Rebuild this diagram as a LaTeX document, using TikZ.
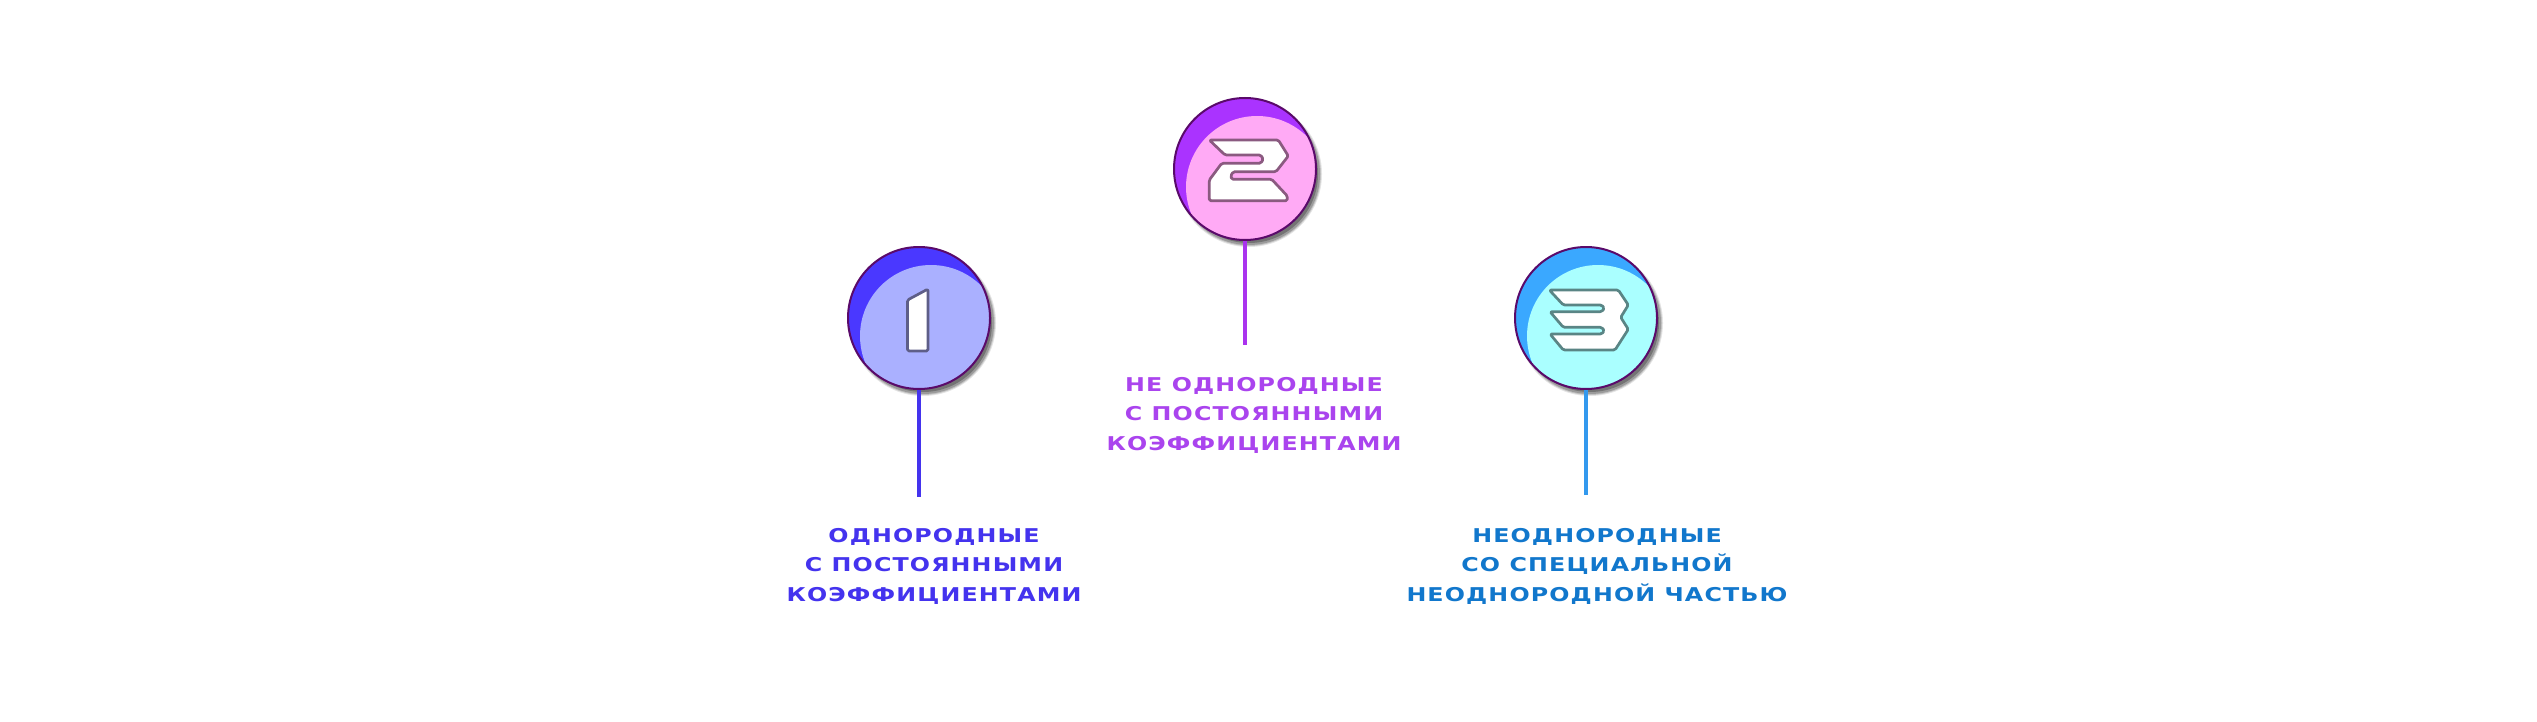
\documentclass[tikz,border=0pt]{standalone}
\usepackage{fontspec}
\newfontfamily\lblfont[FakeStretch=1.25,LetterSpace=6]{DejaVu Sans}
\definecolor{outl}{HTML}{5A0A6A}
\definecolor{dkA}{HTML}{4A38FF}\definecolor{ltA}{HTML}{AAB0FF}\definecolor{stA}{HTML}{5E5E88}
\definecolor{dkB}{HTML}{AA33FF}\definecolor{ltB}{HTML}{FFAAF5}\definecolor{stB}{HTML}{8A5A80}
\definecolor{dkC}{HTML}{3AA8FF}\definecolor{ltC}{HTML}{AAFFFF}\definecolor{stC}{HTML}{5A8585}
\definecolor{txA}{HTML}{4433EE}\definecolor{txB}{HTML}{AA44EE}\definecolor{txC}{HTML}{1177CC}
\definecolor{lnA}{HTML}{4433EE}\definecolor{lnB}{HTML}{AA33EE}\definecolor{lnC}{HTML}{3399EE}
\tikzset{
 badge/.style 2 args={circle, draw=outl, line width=2pt, minimum size=142pt, inner sep=0pt, fill=#1,
   path picture={\fill[#2] ([shift={(12,18)}]path picture bounding box.center) circle (71);}},
 digit/.style={fill=white, draw=#1, line width=2.7pt, line join=round, rounded corners=1.5pt},
 stem/.style={line width=3.5pt, draw=#1},
 lbl/.style={font=\lblfont\bfseries\fontsize{19}{29.5}\selectfont, align=center, text=#1, inner sep=0pt},
}
\begin{document}
\begin{tikzpicture}[x=1pt,y=-1pt]
\useasboundingbox (0,0) rectangle (2537,722);
\fill[white] (0,0) rectangle (2537,722);
\coordinate (p1) at (919,318);
\coordinate (p2) at (1245,169);
\coordinate (p3) at (1586,318);
\foreach \p in {p1,p2,p3}{
  \foreach \r/\o in {73/0.1,72/0.15,71/0.2,69/0.25}
    \fill[black,opacity=\o] ([shift={(4,5)}]\p) circle (\r);
}
\node[badge={dkA}{ltA}] (c1) at (p1) {};
\node[badge={dkB}{ltB}] (c2) at (p2) {};
\node[badge={dkC}{ltC}] (c3) at (p3) {};
% digit 1
\draw[digit=stA, shift={(p1)}] (-11.5,-18) -- (9,-29) -- (9,33) -- (-11.5,33) -- cycle;
% digit 2
\draw[digit=stB, shift={(p2)}] (-35.7,-29) -- (33.3,-29) -- (43.3,-13) -- (31,2.7) -- (-11.7,2.7)
  -- (-14.3,6.7) -- (-13.3,10.3) -- (26.7,10.3) -- (42.3,27) -- (42.3,31.7) -- (-35.7,31.7)
  -- (-35.7,11) -- (-23.3,-5.7) -- (15.7,-5.7) -- (18.3,-9.7) -- (15.7,-14) -- (-20,-14) -- cycle;
% digit 3
\draw[digit=stC, shift={(p3)}] (-36.7,-28) -- (-22.7,-13) -- (15.7,-13) -- (18.3,-9.7) -- (15.7,-6.3)
  -- (-36,-6.3) -- (-22.7,9.3) -- (15.7,9.3) -- (18.3,12.7) -- (15.7,16) -- (-36,16) -- (-22.7,32)
  -- (29,32) -- (42.3,11.3) -- (34.7,-0.7) -- (42.3,-13) -- (32.3,-28) -- cycle;
% stems
\coordinate (e1) at (919,497);
\coordinate (e2) at (1245,345);
\coordinate (e3) at (1586,495);
\draw[stem=lnA] (c1.south) -- (e1);
\draw[stem=lnB] (c2.south) -- (e2);
\draw[stem=lnC] (c3.south) -- (e3);
% labels
\node[lbl=txA] (l1) at (934,566) {ОДНОРОДНЫЕ\\С ПОСТОЯННЫМИ\\КОЭФФИЦИЕНТАМИ};
\node[lbl=txB] (l2) at (1254,415) {НЕ ОДНОРОДНЫЕ\\С ПОСТОЯННЫМИ\\КОЭФФИЦИЕНТАМИ};
\node[lbl=txC] (l3) at (1597,566) {НЕОДНОРОДНЫЕ\\СО СПЕЦИАЛЬНОЙ\\НЕОДНОРОДНОЙ ЧАСТЬЮ};
\end{tikzpicture}
\end{document}
